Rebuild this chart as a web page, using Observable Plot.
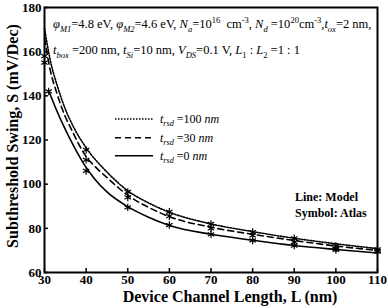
<!DOCTYPE html>
<html><head><meta charset="utf-8">
<script src="https://cdn.jsdelivr.net/npm/d3@7"></script>
<script src="https://cdn.jsdelivr.net/npm/@observablehq/plot@0.6"></script>
<style>body{margin:0;background:#fff}svg{display:block}</style>
</head><body><div id="chart"></div>
<script>
// ---- data ----
const xTicks = [30, 40, 50, 60, 70, 80, 90, 100, 110];
const yTicks = [60, 80, 100, 120, 140, 160, 180];

// Model curves (lines)
const modelL100 = [30, 31.4, 33, 35, 37, 40, 45, 50, 55, 60, 70, 80, 90, 100, 110];
const modelS100 = [170.5, 156, 145, 134, 125.8, 116.5, 105.5, 97, 91.5, 87.3, 82, 78.5, 75.5, 73, 70.8];
const modelL30 = [30, 31.4, 33, 35, 36.2, 40, 42.3, 45, 50, 55, 60, 70, 80, 90, 100, 110];
const modelS30 = [166, 151.5, 141, 130.5, 125.8, 112.5, 107.7, 103, 95, 89.5, 85.3, 80.5, 77.3, 74.5, 72, 70];
const modelL0 = [31, 33, 35, 37, 39.4, 42, 45, 50, 55, 60, 70, 80, 90, 100, 110];
const modelS0 = [142.4, 133, 124.8, 117.3, 109.3, 102.5, 96.5, 89.8, 85, 81.3, 77.3, 74.6, 72.2, 70.4, 68.8];

// Atlas simulation (symbols)
const atlasL = [30, 40, 50, 60, 70, 80, 90, 100, 110];
const atlasS100 = [158, 115.5, 96.5, 87.5, 82, 78.3, 75.5, 72, 70.5];
const atlasS30 = [155, 111, 94, 85.5, 80, 76.8, 73.8, 70.8, 69.8];
const atlasL0 = [31, 40, 50, 60, 70, 80, 90, 100, 110];
const atlasS0 = [142, 106, 89.5, 81.5, 77.3, 74.5, 72.2, 70.3, 69.5];

const legendLabels = ["100", "30", "0"];
const legendDash = ["1.5,1.5", "6,4", null];

const xLabel = "Device Channel Length, L (nm)";
const yLabel = "Subthreshold Swing, S (mV/Dec)";

const serif = '"Liberation Serif", Tinos, "Times New Roman", "Noto Serif", "DejaVu Serif", serif';

const plot = Plot.plot({
  width: 388, height: 308,
  marginLeft: 44, marginRight: 11, marginTop: 7, marginBottom: 36,
  style: {fontFamily: serif, fontSize: "13px", fontWeight: "bold", color: "black", background: "white", overflow: "visible"},
  x: {domain: [30, 110]},
  y: {domain: [60, 180]},
  marks: [
    Plot.axisX(xTicks, {tickSize: -4, tickPadding: 6, label: null, strokeWidth: 1.5, fontSize: 13, fontFamily: serif}),
    Plot.axisY(yTicks, {tickSize: -4, tickPadding: 7, label: null, strokeWidth: 1.5, fontSize: 13, fontFamily: serif}),
    Plot.line(modelL100, {x: modelL100, y: modelS100, curve: "monotone-x", stroke: "black", strokeWidth: 1.6, strokeDasharray: legendDash[0]}),
    Plot.line(modelL30, {x: modelL30, y: modelS30, curve: "monotone-x", stroke: "black", strokeWidth: 1.6, strokeDasharray: legendDash[1]}),
    Plot.line(modelL0, {x: modelL0, y: modelS0, curve: "monotone-x", stroke: "black", strokeWidth: 1.6}),
    Plot.dot(atlasL, {x: atlasL, y: atlasS100, symbol: "asterisk", r: 3.5, stroke: "black", strokeWidth: 1.2}),
    Plot.dot(atlasL, {x: atlasL, y: atlasS30, symbol: "asterisk", r: 3.5, stroke: "black", strokeWidth: 1.2}),
    Plot.dot(atlasL0, {x: atlasL0, y: atlasS0, symbol: "asterisk", r: 3.5, stroke: "black", strokeWidth: 1.2}),
    Plot.frame({stroke: "black", strokeWidth: 2}),
    Plot.text([xLabel], {frameAnchor: "bottom", text: d => d, textAnchor: "middle", lineAnchor: "middle", dy: 24, dx: 19, fontSize: 16, fontWeight: "bold", fontFamily: serif}),
    Plot.text([yLabel], {frameAnchor: "left", text: d => d, textAnchor: "middle", lineAnchor: "middle", rotate: -90, dx: -32, dy: -4, fontSize: 16, fontWeight: "bold", fontFamily: serif})
  ]
});

document.getElementById("chart").appendChild(plot);

const svg = d3.select(plot);
const g = svg.append("g").attr("font-family", serif).attr("fill", "black")
  .attr("text-anchor", "start").style("white-space", "pre");

function rich(x, y, parts, fs, weight) {
  const t = g.append("text").attr("x", x).attr("y", y).attr("font-size", fs)
    .attr("font-weight", weight || "normal").attr("text-anchor", "start");
  let cur = 0;
  for (const [s, st] of parts) {
    const ts = t.append("tspan").text(s);
    let shift = 0, size = fs;
    if (st.includes("i")) ts.attr("font-style", "italic");
    if (st.includes("s")) { shift = fs * 0.28; size = fs * 0.68; }
    if (st.includes("p")) { shift = -fs * 0.4; size = fs * 0.68; }
    ts.attr("font-size", size);
    if (shift !== cur) ts.attr("dy", shift - cur);
    cur = shift;
  }
  return t;
}

rich(53, 28, [["φ","i"],["M1","is"],["=4.8 eV, ",""],["φ","i"],["M2","is"],["=4.6 eV, ",""],["N","i"],["a","is"],["=10",""],["16","p"],["  cm",""],["-3","p"],[", ",""],["N","i"],["d","is"],[" =10",""],["20","p"],["cm",""],["-3","p"],[",",""],["t","i"],["ox","is"],["=2 nm,",""]], 12.5);
rich(53, 54, [["t","i"],["box","is"],[" =200 nm, ",""],["t","i"],["Si","is"],["=10 nm, ",""],["V","i"],["DS","is"],["=0.1 V, ",""],["L","i"],["1","s"],[" : ",""],["L","i"],["2","s"],[" =1 : 1",""]], 12.5);

const legendY = [119, 137.7, 155.7];
legendLabels.forEach((lab, i) => {
  const ln = g.append("line").attr("x1", 115).attr("x2", 153).attr("y1", legendY[i]).attr("y2", legendY[i])
    .attr("stroke", "black").attr("stroke-width", 1.6);
  if (legendDash[i]) ln.attr("stroke-dasharray", legendDash[i]);
  rich(160, legendY[i] + 4, [["t","i"],["rsd","is"],[" =" + lab + " ",""],["nm","i"]], 12);
});

rich(295, 201, [["Line: Model",""]], 12, "bold");
rich(295, 217, [["Symbol: Atlas",""]], 12, "bold");
</script>
</body></html>
